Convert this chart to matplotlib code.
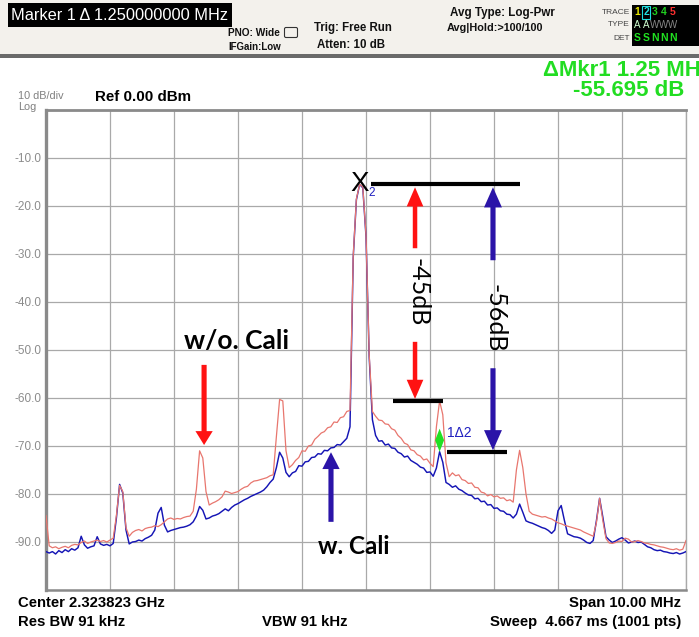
import numpy as np
import matplotlib
matplotlib.use("Agg")
import matplotlib.pyplot as plt
from matplotlib.patches import FancyArrow, FancyBboxPatch, Polygon, Rectangle

# ---------------------------------------------------------------- data
center_ghz = 2.323823
span_mhz = 10.0
n_points = 201                       # 0.05 MHz per sweep point
ref_level_dbm = 0.0
db_per_div = 10

ytick_values = [-10, -20, -30, -40, -50, -60, -70, -80, -90]
ytick_labels = ["-10.0", "-20.0", "-30.0", "-40.0", "-50.0",
                "-60.0", "-70.0", "-80.0", "-90.0"]

# trace 1: without calibration (red)
red_dbm = [
    -84.5, -90.8, -91.2, -91.0, -91.4, -91.1, -90.9, -91.2, -90.7, -90.5,
    -90.6, -90.1, -89.8, -90.3, -90.0, -89.8, -89.6, -89.9, -89.7, -90.0,
    -89.6, -89.2, -84.5, -78.2, -79.5, -87.0, -88.8, -88.0, -87.6, -87.4,
    -87.7, -87.2, -87.0, -86.9, -86.6, -86.8, -86.4, -85.8, -85.2, -85.0,
    -85.3, -85.1, -85.2, -84.9, -84.7, -84.6, -83.6, -79.0, -71.0, -72.5,
    -79.5, -82.3, -81.9, -81.6, -81.2, -80.6, -79.4, -79.6, -79.9, -79.7,
    -79.5, -79.0, -78.6, -78.4, -77.7, -77.3, -77.2, -77.0, -76.8, -76.6,
    -76.2, -76.0, -68.0, -60.3, -60.6, -71.0, -74.5, -73.9, -73.0, -72.4,
    -71.0, -71.1, -70.0, -69.8, -68.6, -68.0, -67.3, -67.0, -66.2, -66.0,
    -65.0, -65.1, -64.1, -63.9, -62.8, -62.6, -30.5, -18.5, -15.5, -16.0,
    -26.0, -51.0, -62.8, -63.8, -64.6, -64.7, -65.4, -65.5, -66.4, -66.7,
    -67.8, -68.4, -69.4, -69.7, -70.8, -71.0, -71.8, -72.1, -72.9, -72.7,
    -73.6, -74.3, -66.0, -60.6, -63.5, -73.5, -76.4, -75.6, -76.2, -76.0,
    -77.0, -77.2, -77.8, -77.7, -78.6, -78.7, -79.6, -79.8, -80.4, -80.1,
    -80.6, -80.4, -80.9, -80.8, -81.4, -81.2, -81.7, -75.0, -70.9, -74.5,
    -80.0, -83.6, -84.2, -84.4, -84.6, -84.8, -84.7, -85.0, -85.2, -85.6,
    -86.0, -86.2, -86.5, -86.7, -86.9, -87.1, -87.3, -87.5, -87.9, -88.2,
    -88.5, -88.8, -86.0, -80.9, -85.5, -89.3, -90.2, -90.3, -90.1, -89.8,
    -89.9, -89.2, -89.4, -90.0, -89.9, -89.7, -89.9, -90.2, -90.3, -90.5,
    -90.6, -90.8, -91.0, -91.1, -91.3, -91.5, -91.6, -91.4, -91.7, -91.5,
    -89.7,
]

# trace 2: with calibration (blue)
blue_dbm = [
    -92.0, -92.3, -92.0, -92.5, -91.8, -92.2, -91.6, -92.0, -91.4, -91.7,
    -91.2, -88.8, -90.6, -91.3, -91.0, -90.8, -88.9, -90.4, -90.7, -90.5,
    -90.8, -90.3, -85.0, -78.0, -79.8, -87.5, -90.4, -90.0, -89.9, -89.6,
    -89.8, -89.3, -89.0, -88.6, -87.5, -84.0, -82.8, -86.5, -87.9, -87.6,
    -87.4, -87.2, -87.0, -86.9, -86.7, -86.4, -85.8, -84.6, -82.6, -83.4,
    -85.2, -85.0, -84.6, -84.4, -84.1, -83.6, -83.1, -83.5, -82.8, -82.3,
    -82.0, -81.6, -81.2, -80.9, -80.5, -80.2, -79.9, -79.6, -79.2, -78.5,
    -77.6, -76.9, -74.5, -71.3, -72.5, -75.5, -76.4, -75.6, -75.3, -74.1,
    -74.2, -73.3, -73.2, -72.4, -72.3, -71.6, -71.7, -70.9, -71.0, -70.4,
    -70.3, -69.7, -69.8, -69.1, -68.4, -66.0, -30.8, -18.7, -15.5, -16.2,
    -26.3, -51.5, -64.5, -67.8, -69.0, -68.9, -69.8, -69.6, -70.4, -70.5,
    -71.3, -71.6, -72.3, -72.1, -73.0, -73.4, -73.8, -74.4, -74.6, -75.5,
    -75.4, -76.3, -74.6, -71.195, -73.4, -77.6, -78.0, -78.6, -78.3, -79.0,
    -79.3, -79.8, -80.2, -80.3, -81.0, -80.9, -81.6, -81.5, -82.3, -82.2,
    -83.0, -82.9, -83.5, -83.6, -84.2, -84.3, -85.0, -84.2, -82.1, -83.8,
    -85.6, -85.9, -86.1, -86.4, -86.7, -87.0, -87.2, -87.6, -88.2, -87.5,
    -83.5, -82.4, -85.5, -88.3, -88.6, -88.9, -89.0, -89.2, -89.6, -90.1,
    -90.3, -89.7, -85.6, -80.9, -84.8, -88.9, -89.6, -90.1, -89.8, -89.4,
    -89.1, -89.6, -90.2, -90.0, -89.8, -90.1, -90.0, -90.5, -91.0, -91.2,
    -91.6, -91.8, -91.7, -92.0, -92.1, -92.3, -92.4, -92.2, -92.5, -92.3,
    -92.0,
]

# marker sweep indices: marker 2 on the carrier, marker 1 on the +1.25 MHz image
marker2_idx = 98
marker1_idx = 123

freq_mhz = np.linspace(-span_mhz / 2, span_mhz / 2, n_points)
red = np.array(red_dbm)
blue = np.array(blue_dbm)

delta_f = freq_mhz[marker1_idx] - freq_mhz[marker2_idx]
delta_db = blue[marker1_idx] - blue[marker2_idx]
carrier_db = red[marker2_idx]
red_image_db = red[marker1_idx]
blue_image_db = blue[marker1_idx]

# ---------------------------------------------------------------- figure
W, H = 699, 637
fig = plt.figure(figsize=(W / 100, H / 100), dpi=100, facecolor="white")
SANS = ["Liberation Sans", "DejaVu Sans"]
CALI = ["Lato", "Open Sans", "DejaVu Sans"]

# full-figure layer in pixel units for the instrument frame text
ov = fig.add_axes([0, 0, 1, 1])
ov.set_xlim(0, W)
ov.set_ylim(H, 0)
ov.axis("off")

ov.add_patch(Rectangle((0, 0), W, 54, color="#f3f1ec", lw=0))
ov.add_patch(Rectangle((0, 54), W, 3.5, color="#6a6a6a", lw=0))
ov.add_patch(Rectangle((8, 3), 224, 24, color="black", lw=0))
ov.text(11, 15, f"Marker 1 \u0394 {delta_f:.9f} MHz", color="white",
        fontsize=11.8, family=SANS, va="center", ha="left")

hdr = dict(family=SANS, fontweight="bold", va="center", ha="left", color="#111111")
ov.text(228, 33, "PNO: Wide", fontsize=7.3, **hdr)
ov.text(228, 47, "IFGain:Low", fontsize=7.0, **hdr)
ov.add_patch(FancyBboxPatch((286, 29), 10, 7, boxstyle="round,pad=1.5",
                            fc="none", ec="#333333", lw=0.8))
ov.text(314, 28, "Trig: Free Run", fontsize=8.3, **hdr)
ov.text(317, 45, "Atten: 10 dB", fontsize=8.3, **hdr)
ov.text(450, 13, "Avg Type: Log-Pwr", fontsize=8.4, **hdr)
ov.text(447, 28, "Avg|Hold:>100/100", fontsize=7.8, **hdr)

small = dict(family=SANS, fontsize=6, va="center", ha="right", color="#444444")
ov.text(630, 12, "TRACE", **small)
ov.text(630, 25, "TYPE", **small)
ov.text(630, 38, "DET", **small)
ov.add_patch(Rectangle((632, 5), 67, 41, color="black", lw=0))
trace_cols = ["#e6e600", "#20e0e0", "#20d020", "#20d020", "#ff3030"]
for i, c in enumerate(trace_cols):
    ov.text(637 + i * 9, 12, str(i + 1), color=c, fontsize=7.5, family=SANS,
            va="center", ha="center", fontweight="bold")
ov.add_patch(Rectangle((641.5, 5.5), 8, 13, fc="none", ec="#20e0e0", lw=0.8))
for i, (ch, c) in enumerate(zip("AAWWW", ["#d0ffd0", "#d0ffd0", "#888888", "#888888", "#888888"])):
    ov.text(637 + i * 9, 25, ch, color=c, fontsize=7, family=SANS,
            va="center", ha="center")
for i, ch in enumerate("SSNNN"):
    ov.text(637 + i * 9, 38, ch, color="#20e020", fontsize=7.5, family=SANS,
            va="center", ha="center", fontweight="bold")

green = "#22dd22"
ov.text(543, 70, f"\u0394Mkr1 {delta_f:.2f} MHz", color=green, fontsize=16,
        family=SANS, fontweight="bold", va="center", ha="left")
ov.text(573, 91, f"{delta_db:.3f} dB", color=green, fontsize=16,
        family=SANS, fontweight="bold", va="center", ha="left")

ov.text(18, 96, f"{db_per_div} dB/div", color="#808080", fontsize=7.8,
        family=SANS, va="center", ha="left")
ov.text(18, 107.5, "Log", color="#808080", fontsize=7.8, family=SANS,
        va="center", ha="left")
ov.text(95, 97, f"Ref {ref_level_dbm:.2f} dBm", color="black", fontsize=10.9,
        family=SANS, fontweight="bold", va="center", ha="left")

foot = dict(family=SANS, fontweight="bold", fontsize=10.7, va="center",
            ha="left", color="black")
ov.text(18, 603, f"Center {center_ghz:.6f} GHz", **foot)
ov.text(18, 622, "Res BW 91 kHz", **foot)
ov.text(262, 622, "VBW 91 kHz", **foot)
ov.text(569, 603, f"Span {span_mhz:.2f} MHz", **foot)
ov.text(490, 622, "Sweep  4.667 ms (1001 pts)", **foot)

# ---------------------------------------------------------------- graticule
ax = fig.add_axes([46 / W, 1 - 590 / H, 640 / W, 480 / H])
ax.set_facecolor("white")
ax.set_xlim(-span_mhz / 2, span_mhz / 2)
ax.set_ylim(ref_level_dbm - 10 * db_per_div, ref_level_dbm)
ax.set_xticks(np.arange(-5, 5.01, 1))
ax.set_yticks(ytick_values)
ax.set_yticklabels(ytick_labels, family=SANS, fontsize=8.5, color="#8c8c8c")
ax.tick_params(axis="both", length=0, labelbottom=False, pad=3)
for y in range(-100, 1, 10):
    ax.axhline(y, color="#a9a9a9", lw=0.9, zorder=0)
for x in np.arange(-5, 5.01, 1):
    ax.axvline(x, color="#a9a9a9", lw=0.9, zorder=0)
ax.spines["left"].set_color("#8a8a8a")
ax.spines["left"].set_linewidth(2.4)
ax.spines["top"].set_color("#8a8a8a")
ax.spines["top"].set_linewidth(2.0)
ax.spines["bottom"].set_color("#8a8a8a")
ax.spines["bottom"].set_linewidth(1.8)
ax.spines["right"].set_color("#a9a9a9")
ax.spines["right"].set_linewidth(1.0)

ax.plot(freq_mhz, blue, color="#1515b5", lw=1.05, zorder=3)
ax.plot(freq_mhz, red, color="#e8766e", lw=0.9, zorder=4)

# ---------------------------------------------------------------- annotations
red_c = "#ff1212"
blue_c = "#2b14a8"

# reference levels (carrier, image without / with calibration)
ax.plot([0.08, 2.41], [carrier_db, carrier_db], color="black", lw=3.0,
        solid_capstyle="butt", zorder=6)
ax.plot([0.42, 1.20], [red_image_db, red_image_db], color="black", lw=3.0,
        solid_capstyle="butt", zorder=6)
ax.plot([1.27, 2.20], [blue_image_db, blue_image_db], color="black", lw=3.0,
        solid_capstyle="butt", zorder=6)

def varrow(x, y_from, y_to, color, shaft=0.07, head_w=0.26, head_l=4.0):
    ax.add_patch(FancyArrow(x, y_from, 0, y_to - y_from, width=shaft,
                            head_width=head_w, head_length=head_l,
                            length_includes_head=True, color=color, lw=0,
                            zorder=7))

red_x, blue_x = 0.766, 1.984
varrow(red_x, -28.8, carrier_db - 0.6, red_c)
varrow(red_x, -48.3, red_image_db + 0.4, red_c)
varrow(blue_x, -31.3, carrier_db - 0.6, blue_c, shaft=0.08, head_w=0.28, head_l=4.2)
varrow(blue_x, -53.8, blue_image_db + 0.3, blue_c, shaft=0.08, head_w=0.28, head_l=4.2)

ax.text(0.81, -37.9, "-45dB", rotation=270, fontsize=18, family=CALI,
        ha="center", va="center", zorder=8)
ax.text(2.02, -43.3, "-56dB", rotation=270, fontsize=18, family=CALI,
        ha="center", va="center", zorder=8)

# callouts for the two traces
varrow(-2.53, -53.1, -69.8, red_c, shaft=0.08, head_w=0.27, head_l=2.9)
ax.text(-2.03, -48.1, "w/o. Cali", fontsize=19, fontweight="bold", family=CALI,
        ha="center", va="center", zorder=8)
varrow(-0.547, -85.8, -71.3, blue_c, shaft=0.08, head_w=0.27, head_l=3.5)
ax.text(-0.19, -91.0, "w. Cali", fontsize=17.5, fontweight="bold", family=CALI,
        ha="center", va="center", zorder=8)

# marker 2 (reference) on the carrier
f2 = freq_mhz[marker2_idx]
ax.text(f2, carrier_db, "X", fontsize=20, family=SANS, ha="center",
        va="center", color="black", zorder=8)
ax.annotate("2", xy=(f2, carrier_db), xytext=(9, -6), textcoords="offset points",
            fontsize=8.5, color="#2020c0", family=SANS, ha="center", va="center",
            zorder=8)

# marker 1 (delta) diamond on the calibrated trace
f1 = freq_mhz[marker1_idx]
hw, hh = 0.07, 2.4
ax.add_patch(Polygon([(f1, blue_image_db), (f1 + hw, blue_image_db + hh),
                      (f1, blue_image_db + 2 * hh), (f1 - hw, blue_image_db + hh)],
                     closed=True, color="#22e022", lw=0, zorder=8))
ax.text(f1 + 0.12, -67.3, "1\u03942", fontsize=10, family=SANS,
        color="#2020c0", ha="left", va="center", zorder=8)

fig.savefig("out.png", dpi=100, facecolor="white")
